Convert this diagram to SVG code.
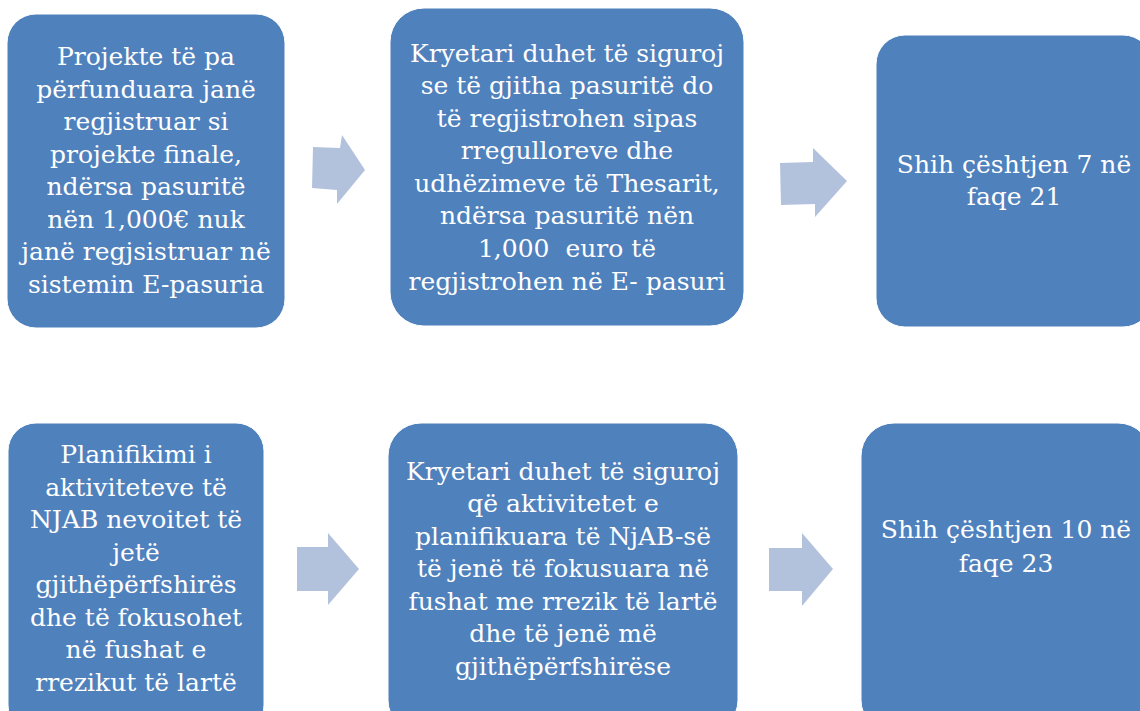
<svg xmlns="http://www.w3.org/2000/svg" width="1140" height="711" viewBox="0 0 1140 711">
<style>
.box{fill:#4F81BD;stroke:#FFFFFF;stroke-width:1}
.arr{fill:#B2C2DD}
.t{font-family:'DejaVu Serif', 'Liberation Serif', serif;font-size:25px;fill:#FFFFFF;text-anchor:middle}
</style>
<rect width="1140" height="711" fill="#FFFFFF"/>
<g id="connectors">
<polygon class="arr" points="313,147 340,148 342,135 365,170 337,204 337,190 312,188"/>
<polygon class="arr" points="780,163 813,162 813,148 847,181 815,217 815,204 781,205"/>
<polygon class="arr" points="297,547 328,547 328,533 359,569 328,605 328,591 297,591"/>
<polygon class="arr" points="769,548 802,548 802,533 833,569 802,606 802,591 769,591"/>
</g>
<g id="node1">
<rect class="box" x="7" y="14" width="278" height="314" rx="29"/>
<text class="t"><tspan x="146" y="65">Projekte të pa</tspan><tspan x="146" y="98">përfunduara janë</tspan><tspan x="146" y="130">regjistruar si</tspan><tspan x="146" y="163">projekte finale,</tspan><tspan x="146" y="195">ndërsa pasuritë</tspan><tspan x="146" y="228">nën 1,000€ nuk</tspan><tspan x="146" y="260">janë regjsistruar në</tspan><tspan x="146" y="293">sistemin E-pasuria</tspan></text>
</g>
<g id="node2">
<rect class="box" x="390" y="8" width="354" height="318" rx="34"/>
<text class="t"><tspan x="567" y="62">Kryetari duhet të siguroj</tspan><tspan x="567" y="94">se të gjitha pasuritë do</tspan><tspan x="567" y="127">të regjistrohen sipas</tspan><tspan x="567" y="159">rregulloreve dhe</tspan><tspan x="567" y="192">udhëzimeve të Thesarit,</tspan><tspan x="567" y="224">ndërsa pasuritë nën</tspan><tspan x="567" y="257" xml:space="preserve">1,000  euro të</tspan><tspan x="567" y="290">regjistrohen në E- pasuri</tspan></text>
</g>
<g id="node3">
<rect class="box" x="876" y="35" width="276" height="292" rx="29"/>
<text class="t"><tspan x="1014" y="173">Shih çështjen 7 në</tspan><tspan x="1014" y="205">faqe 21</tspan></text>
</g>
<g id="node4">
<rect class="box" x="8" y="423" width="256" height="310" rx="28"/>
<text class="t"><tspan x="136" y="463">Planifikimi i</tspan><tspan x="136" y="496">aktiviteteve të</tspan><tspan x="136" y="528">NJAB nevoitet të</tspan><tspan x="136" y="561">jetë</tspan><tspan x="136" y="593">gjithëpërfshirës</tspan><tspan x="136" y="626">dhe të fokusohet</tspan><tspan x="136" y="658">në fushat e</tspan><tspan x="136" y="691">rrezikut të lartë</tspan></text>
</g>
<g id="node5">
<rect class="box" x="388" y="423" width="350" height="310" rx="33"/>
<text class="t"><tspan x="563" y="480">Kryetari duhet të siguroj</tspan><tspan x="563" y="512">që aktivitetet e</tspan><tspan x="563" y="545">planifikuara të NjAB-së</tspan><tspan x="563" y="577">të jenë të fokusuara në</tspan><tspan x="563" y="610">fushat me rrezik të lartë</tspan><tspan x="563" y="642">dhe të jenë më</tspan><tspan x="563" y="675">gjithëpërfshirëse</tspan></text>
</g>
<g id="node6">
<rect class="box" x="861" y="423" width="290" height="310" rx="33"/>
<text class="t"><tspan x="1006" y="538">Shih çështjen 10 në</tspan><tspan x="1006" y="572">faqe 23</tspan></text>
</g>
</svg>
